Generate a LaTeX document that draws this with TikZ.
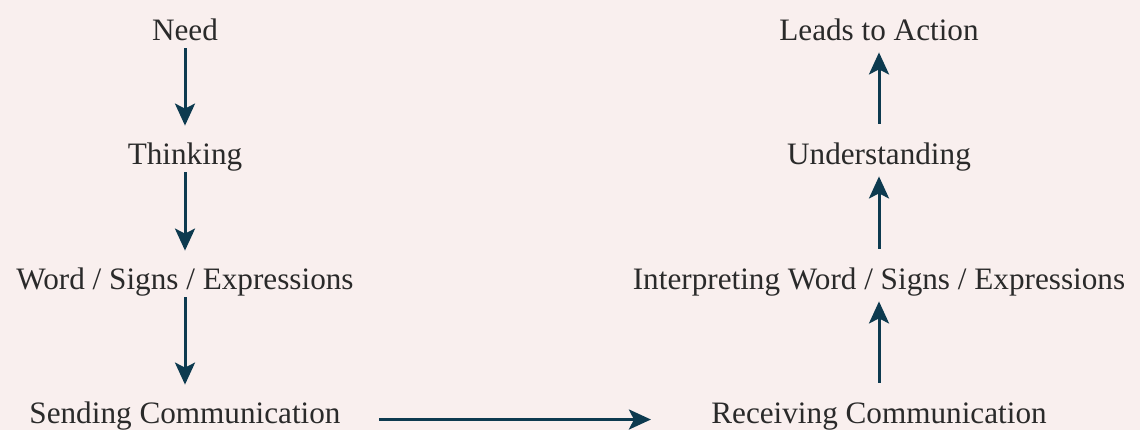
\documentclass[tikz,border=0pt]{standalone}
\usepackage{fontspec}
\setmainfont{Liberation Serif}
\usetikzlibrary{arrows.meta}
\definecolor{paper}{HTML}{F9EFEE}
\definecolor{ink}{HTML}{0D3A4F}
\definecolor{txt}{HTML}{2A2A2A}
\begin{document}
\begin{tikzpicture}[x=0.5pt, y=-0.5pt,
    lbl/.style={anchor=base, inner sep=0pt, text height=11.5pt, text depth=4pt,
      font=\fontsize{15.6}{19}\selectfont, text=txt},
    >={Stealth[length=11pt,width=10pt,inset=2.5pt]},
    link/.style={->, draw=ink, fill=ink, line width=1.5pt},
    down/.style={link, shorten <=0pt, shorten >=7.5pt},
    up/.style={link, shorten <=8.5pt, shorten >=2pt}]
  \fill[paper] (0,0) rectangle (1140,430);
  \useasboundingbox (0,0) rectangle (1140,430);
  % sender side
  \node[lbl] (need) at (185,40) {Need};
  \node[lbl] (think) at (185,164) {Thinking};
  \node[lbl] (words) at (185,289) {Word / Signs / Expressions};
  \node[lbl] (send) at (185,423) {Sending Communication};
  % receiver side
  \node[lbl] (act) at (879,40) {Leads to Action};
  \node[lbl] (under) at (879,164) {Understanding};
  \node[lbl] (interp) at (879,289) {Interpreting Word / Signs / Expressions};
  \node[lbl] (recv) at (879,423) {Receiving Communication};
  \draw[down] (need) -- (think);
  \draw[down] (think) -- (words);
  \draw[down] (words) -- (send);
  \draw[link, shorten <=19pt, shorten >=30pt]
    ([yshift=-2pt]send.east) -- ([yshift=-2pt]recv.west);
  \draw[up] (recv) -- (interp);
  \draw[up] (interp) -- (under);
  \draw[up] (under) -- (act);
\end{tikzpicture}
\end{document}
